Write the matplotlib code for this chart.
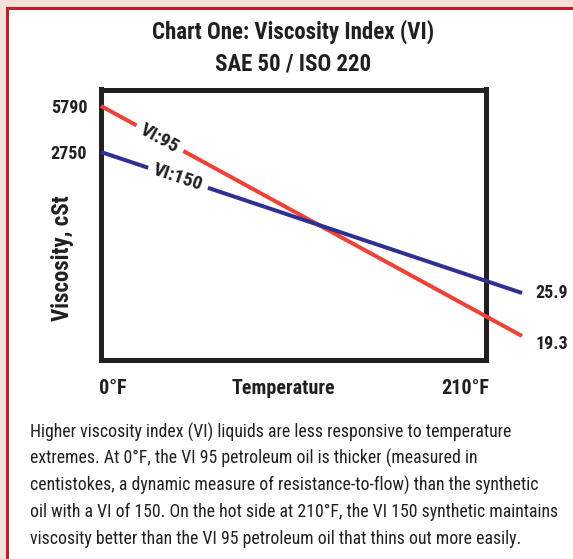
import numpy as np
import matplotlib
matplotlib.use("Agg")
import matplotlib.pyplot as plt
from matplotlib.patches import Rectangle

# ---- data -------------------------------------------------------------
temps_f = [0, 210]                      # temperature end points, °F
vi95_cst = [5790, 19.3]                 # VI 95 petroleum oil, cSt
vi150_cst = [2750, 25.9]                # VI 150 synthetic oil, cSt
y_tick_values = [5790, 2750]
y_tick_labels = ["5790", "2750"]
x_tick_labels = ["0°F", "210°F"]

W, H = 573, 559
DPI = 100
plt.rcParams["font.family"] = ["Roboto Condensed", "Archivo Narrow", "DejaVu Sans"]

INK = "#231f20"
RED = "#ef4136"
BLUE = "#2e3192"
FRAME = "#be1e2d"
BG = "#f4e2da"


def px(x, y):
    """pixel position (from top-left) -> figure fraction"""
    return x / W, 1 - y / H


# schematic viscosity axis: piecewise-linear in log10(cSt)
_lv = np.log10([19.3, 25.9, 2750, 5790])
_ly = np.array([-336.0, -293.0, -152.0, -106.0])


def _ext(xp, fp):
    s0 = (fp[1] - fp[0]) / (xp[1] - xp[0])
    s1 = (fp[-1] - fp[-2]) / (xp[-1] - xp[-2])
    xp = np.concatenate([[xp[0] - 50], xp, [xp[-1] + 50]])
    fp = np.concatenate([[fp[0] - 50 * s0], fp, [fp[-1] + 50 * s1]])
    return xp, fp


_xp, _fp = _ext(_lv, _ly)


def fwd(v):
    v = np.clip(np.asarray(v, dtype=float), 1e-9, None)
    return np.interp(np.log10(v), _xp, _fp)


def inv(u):
    return 10 ** np.interp(np.asarray(u, dtype=float), _fp, _xp)


fig = plt.figure(figsize=(W / DPI, H / DPI), dpi=DPI, facecolor=BG)

# white panel with red frame on the top and left
fig.patches.append(Rectangle(px(6.5, 7.5), 1.5, -1.5, transform=fig.transFigure,
                             facecolor="white", edgecolor=FRAME,
                             linewidth=3 * 72 / DPI, zorder=-5))

# titles
fig.text(*px(293, 32), "Chart One: Viscosity Index (VI)", ha="center", va="center",
         fontsize=16.5, fontweight="bold", color=INK)
fig.text(*px(293, 64), "SAE 50 / ISO 220", ha="center", va="center",
         fontsize=16.5, fontweight="bold", color=INK)

# plot box
left, right, top, bottom = 100.5, 485.5, 89.5, 359.5
ax = fig.add_axes([left / W, 1 - bottom / H, (right - left) / W, (bottom - top) / H])
ax.set_zorder(2)
ax.set_facecolor("white")
ax.set_yscale("function", functions=(fwd, inv))
ax.set_ylim(inv(-bottom), inv(-top))
ax.set_xlim(-0.25, 191.8)
for sp in ax.spines.values():
    sp.set_linewidth(5 * 72 / DPI)
    sp.set_color(INK)
ax.set_xticks([])
ax.set_yticks(y_tick_values)
ax.set_yticklabels(y_tick_labels)
ax.yaxis.set_minor_locator(matplotlib.ticker.NullLocator())
ax.tick_params(axis="y", length=0, pad=9.5, labelsize=13, labelcolor=INK)
for t in ax.get_yticklabels():
    t.set_fontweight("bold")

lw = 4 * 72 / DPI
ax.plot(temps_f, vi95_cst, color=RED, lw=lw, clip_on=False, solid_capstyle="butt", zorder=3)
ax.plot(temps_f, vi150_cst, color=BLUE, lw=lw, clip_on=False, solid_capstyle="butt", zorder=3)

# end-of-line values
ax.annotate(f"{vi150_cst[1]:g}", (temps_f[1], vi150_cst[1]), xytext=(10, 0),
            textcoords="offset points", ha="left", va="center", fontsize=13,
            fontweight="bold", color=INK, annotation_clip=False)
ax.annotate(f"{vi95_cst[1]:g}", (temps_f[1], vi95_cst[1]), xytext=(10, -6),
            textcoords="offset points", ha="left", va="center", fontsize=13,
            fontweight="bold", color=INK, annotation_clip=False)


# in-line series labels
def line_label(xs, ys, frac, text, padx):
    p0 = ax.transData.transform((xs[0], ys[0]))
    p1 = ax.transData.transform((xs[1], ys[1]))
    p = p0 + (p1 - p0) * frac
    ang = np.degrees(np.arctan2(p1[1] - p0[1], p1[0] - p0[0]))
    ax.text(p[0], p[1], text, transform=None, rotation=ang, rotation_mode="anchor",
            ha="center", va="center", fontsize=14, fontweight="bold", color=INK,
            zorder=4, bbox=dict(boxstyle=f"square,pad={padx}", facecolor="white",
                                edgecolor="none"))


line_label(temps_f, vi95_cst, 0.14, "VI:95", 0.3)
line_label(temps_f, vi150_cst, 0.183, "VI:150", 0.3)

# axis captions
fig.text(*px(62, 258), "Viscosity, cSt", rotation=90, ha="center", va="center",
         fontsize=16.5, fontweight="bold", color=INK)
fig.text(*px(113, 388), x_tick_labels[0], ha="center", va="center",
         fontsize=14.5, fontweight="bold", color=INK)
fig.text(*px(283, 388), "Temperature", ha="center", va="center",
         fontsize=14.5, fontweight="bold", color=INK)
fig.text(*px(465, 388), x_tick_labels[1], ha="center", va="center",
         fontsize=14.5, fontweight="bold", color=INK)

body = [
    "Higher viscosity index (VI) liquids are less responsive to temperature",
    "extremes. At 0°F, the VI 95 petroleum oil is thicker (measured in",
    "centistokes, a dynamic measure of resistance-to-flow) than the synthetic",
    "oil with a VI of 150. On the hot side at 210°F, the VI 150 synthetic maintains",
    "viscosity better than the VI 95 petroleum oil that thins out more easily.",
]
for i, line in enumerate(body):
    fig.text(*px(30, 432 + 26.7 * i), line, ha="left", va="center",
             fontsize=12.8, color=INK)

fig.savefig("out.png", dpi=DPI, facecolor=BG)
